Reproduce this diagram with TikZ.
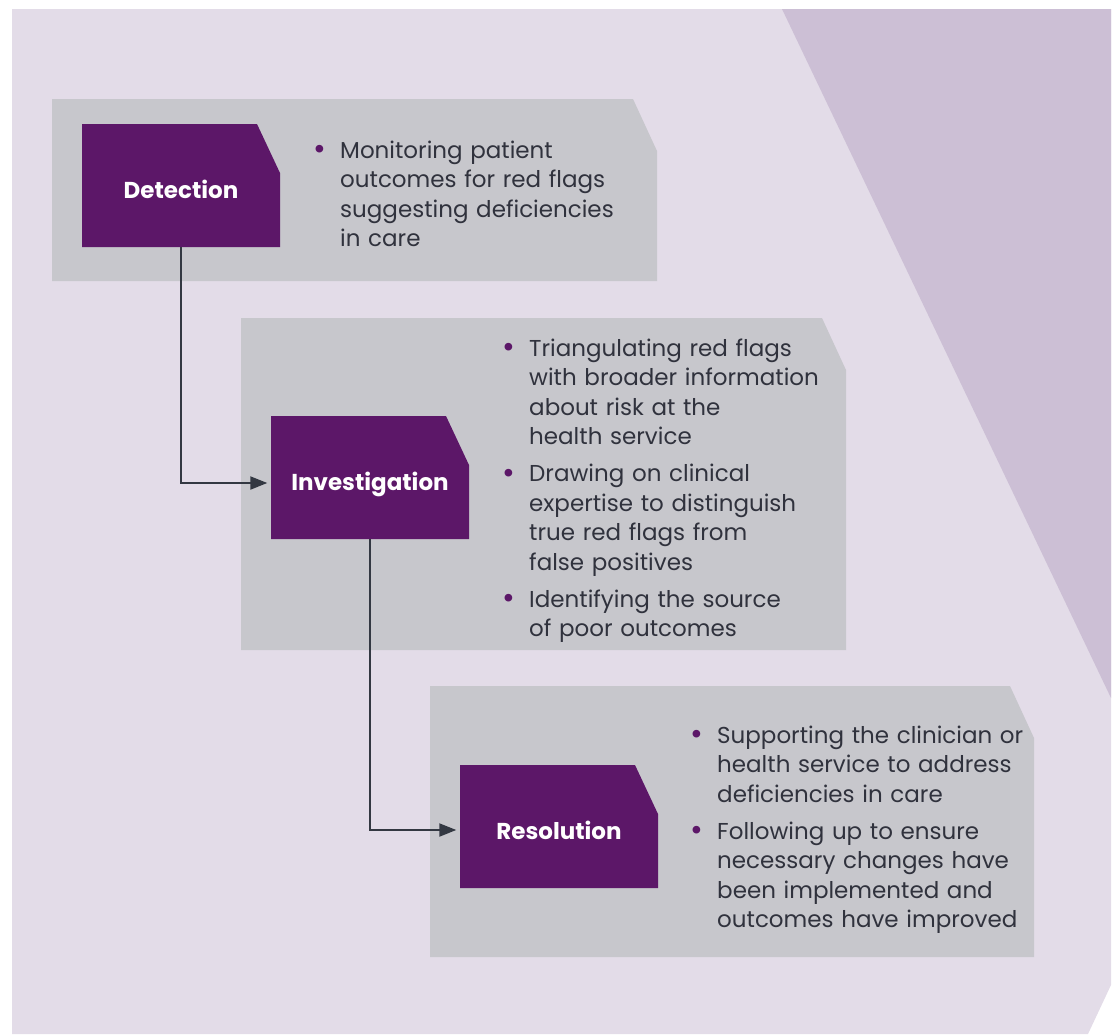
\documentclass[tikz,border=0pt]{standalone}
\usepackage{fontspec}
\setmainfont{Poppins}
\usetikzlibrary{arrows.meta,positioning}
\definecolor{vicpurple}{HTML}{5C1768}
\definecolor{panelgray}{HTML}{C7C7CC}
\definecolor{lavlight}{HTML}{E3DCE8}
\definecolor{lavdark}{HTML}{CCBFD5}
\definecolor{inkgray}{HTML}{30323D}
\definecolor{arrowgray}{HTML}{333842}

\newcommand{\bulitem}[1]{\par{\leftskip=25pt\noindent\hspace*{-25pt}%
  \makebox[25pt][l]{\hspace*{-2pt}\raisebox{-1.5pt}{\textcolor{vicpurple}{\fontsize{31}{29.5}\selectfont\textbullet}}}#1\par}}

\tikzset{
  stagebox/.style={minimum width=198pt, minimum height=123pt, inner sep=0pt,
    text height=27pt, text depth=2pt,
    text=white, font=\bfseries\fontsize{23}{27}\selectfont,
    path picture={\fill[vicpurple] (path picture bounding box.south west)
      -- (path picture bounding box.north west)
      -- ([xshift=-23pt]path picture bounding box.north east)
      -- ([yshift=-49pt]path picture bounding box.north east)
      -- (path picture bounding box.south east) -- cycle;}},
  notes/.style={anchor=north west, inner sep=0pt, text width=360pt, text=inkgray,
    font=\fontsize{23}{29.5}\selectfont\setlength{\parskip}{7.5pt}},
  flow/.style={draw=arrowgray, line width=2pt,
    -{Triangle[length=17pt,width=13pt]}, shorten >=3.5pt}
}

\begin{document}
\begin{tikzpicture}[x=1pt,y=-1pt]
  \useasboundingbox (0,0) rectangle (1114,1034);
  % backdrop
  \fill[lavlight] (12,9) -- (1111,9) -- (1111,985) -- (1088,1034) -- (12,1034) -- cycle;
  \fill[lavdark] (782,9) -- (1111,9) -- (1111,698) -- cycle;
  % grey panels
  \fill[panelgray] (52,99) -- (633,99) -- (657,151) -- (657,281) -- (52,281) -- cycle;
  \fill[panelgray] (241,318) -- (822,318) -- (846,370) -- (846,650) -- (241,650) -- cycle;
  \fill[panelgray] (430,686) -- (1010,686) -- (1034,738) -- (1034,957) -- (430,957) -- cycle;

  % stages
  \node[stagebox] (det) at (181,185.5) {Detection};
  \node[stagebox] (inv) at (370,477.5) {Investigation};
  \node[stagebox] (res) at (559,826.5) {Resolution};

  % bullet notes
  \node[notes] (detnote) at (315,121) {%
    \bulitem{Monitoring patient\\ outcomes for red flags\\ suggesting deficiencies\\ in care}};
  \node[notes] (invnote) at (504,319) {%
    \bulitem{Triangulating red flags\\ with broader information\\ about risk at the\\ health service}
    \bulitem{Drawing on clinical\\ expertise to distinguish\\ true red flags from\\ false positives}
    \bulitem{Identifying the source\\ of poor outcomes}};
  \node[notes] (resnote) at (692,706) {%
    \bulitem{Supporting the clinician or\\ health service to address\\ deficiencies in care}
    \bulitem{Following up to ensure\\ necessary changes have\\ been implemented and\\ outcomes have improved}};

  % connectors
  \draw[flow] (det.south) |- ([yshift=-5.5pt]inv.west);
  \draw[flow] (inv.south) |- ([yshift=-3.5pt]res.west);
\end{tikzpicture}
\end{document}
